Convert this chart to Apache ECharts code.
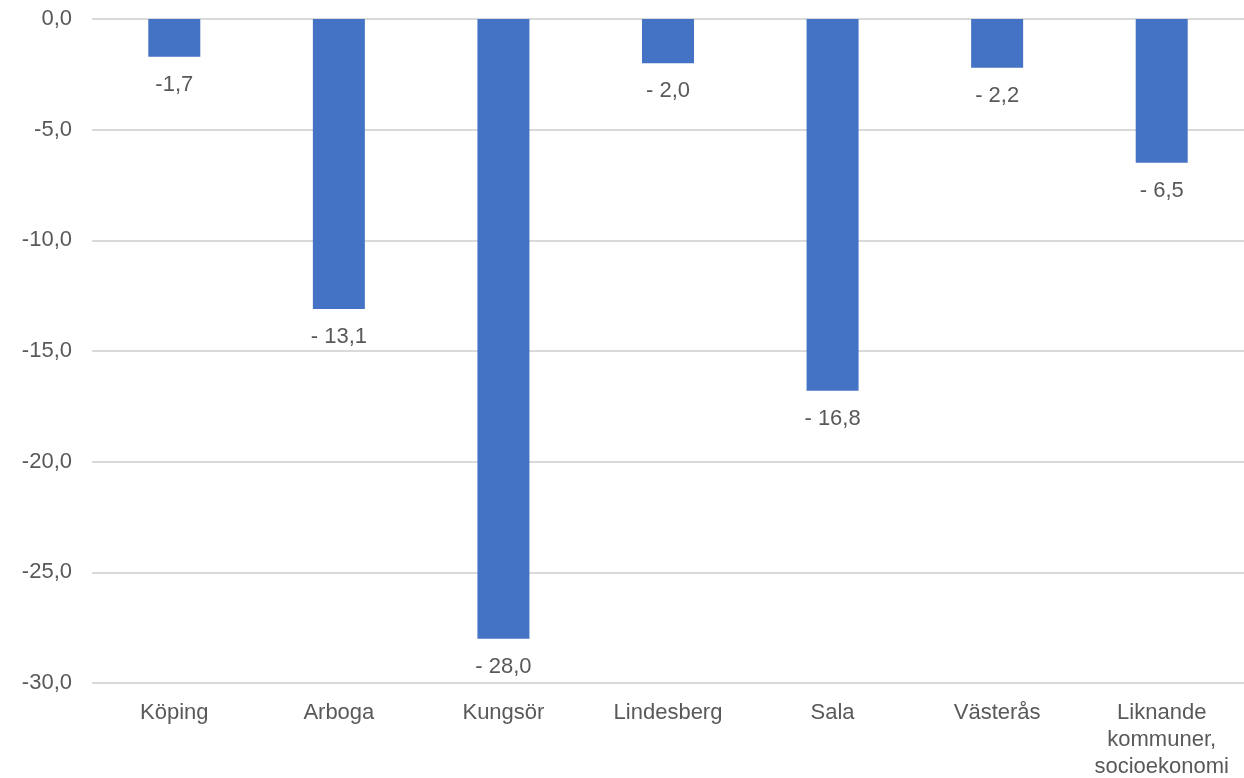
<!DOCTYPE html>
<html>
<head>
<meta charset="utf-8">
<script src="https://cdn.jsdelivr.net/npm/echarts@6/dist/echarts.min.js"></script>
<style>
	html, body { margin: 0; padding: 0; background: #fff; }
	#chart { width: 1244px; height: 778px; }
</style>
</head>
<body>
<div id="chart"></div>
<script>
	var categories = ["Köping", "Arboga", "Kungsör", "Lindesberg", "Sala", "Västerås", "Liknande\nkommuner,\nsocioekonomi"];
	var values = [-1.7, -13.1, -28.0, -2.0, -16.8, -2.2, -6.5];
	var labelTexts = ["-1,7", "- 13,1", "- 28,0", "- 2,0", "- 16,8", "- 2,2", "- 6,5"];

	var textColor = "#595959";
	var myChart = echarts.init(document.getElementById("chart"));
	var option = {
		animation: false,
		textStyle: { fontFamily: "Liberation Sans, Arial, sans-serif" },
		grid: { left: 92, right: 0, top: 19, bottom: 95, outerBoundsMode: "none" },
		xAxis: {
			type: "category",
			data: categories,
			position: "bottom",
			axisLine: { show: false, onZero: false },
			axisTick: { show: false },
			axisLabel: {
				color: textColor,
				fontSize: 22,
				lineHeight: 27,
				margin: 16,
				interval: 0
			}
		},
		yAxis: {
			type: "value",
			min: -30,
			max: 0,
			interval: 5,
			axisLine: { show: false },
			axisTick: { show: false },
			splitLine: { lineStyle: { color: "#d9d9d9", width: 2 } },
			axisLabel: {
				color: textColor,
				fontSize: 22,
				margin: 20,
				formatter: function (v) {
					return v.toFixed(1).replace(".", ",");
				}
			}
		},
		series: [
			{
				type: "bar",
				data: values,
				barWidth: 52,
				itemStyle: { color: "#4472C4" },
				label: {
					show: true,
					position: "bottom",
					distance: 17,
					color: textColor,
					fontSize: 22,
					formatter: function (p) {
						return labelTexts[p.dataIndex];
					}
				}
			}
		]
	};
	myChart.setOption(option);
</script>
</body>
</html>
